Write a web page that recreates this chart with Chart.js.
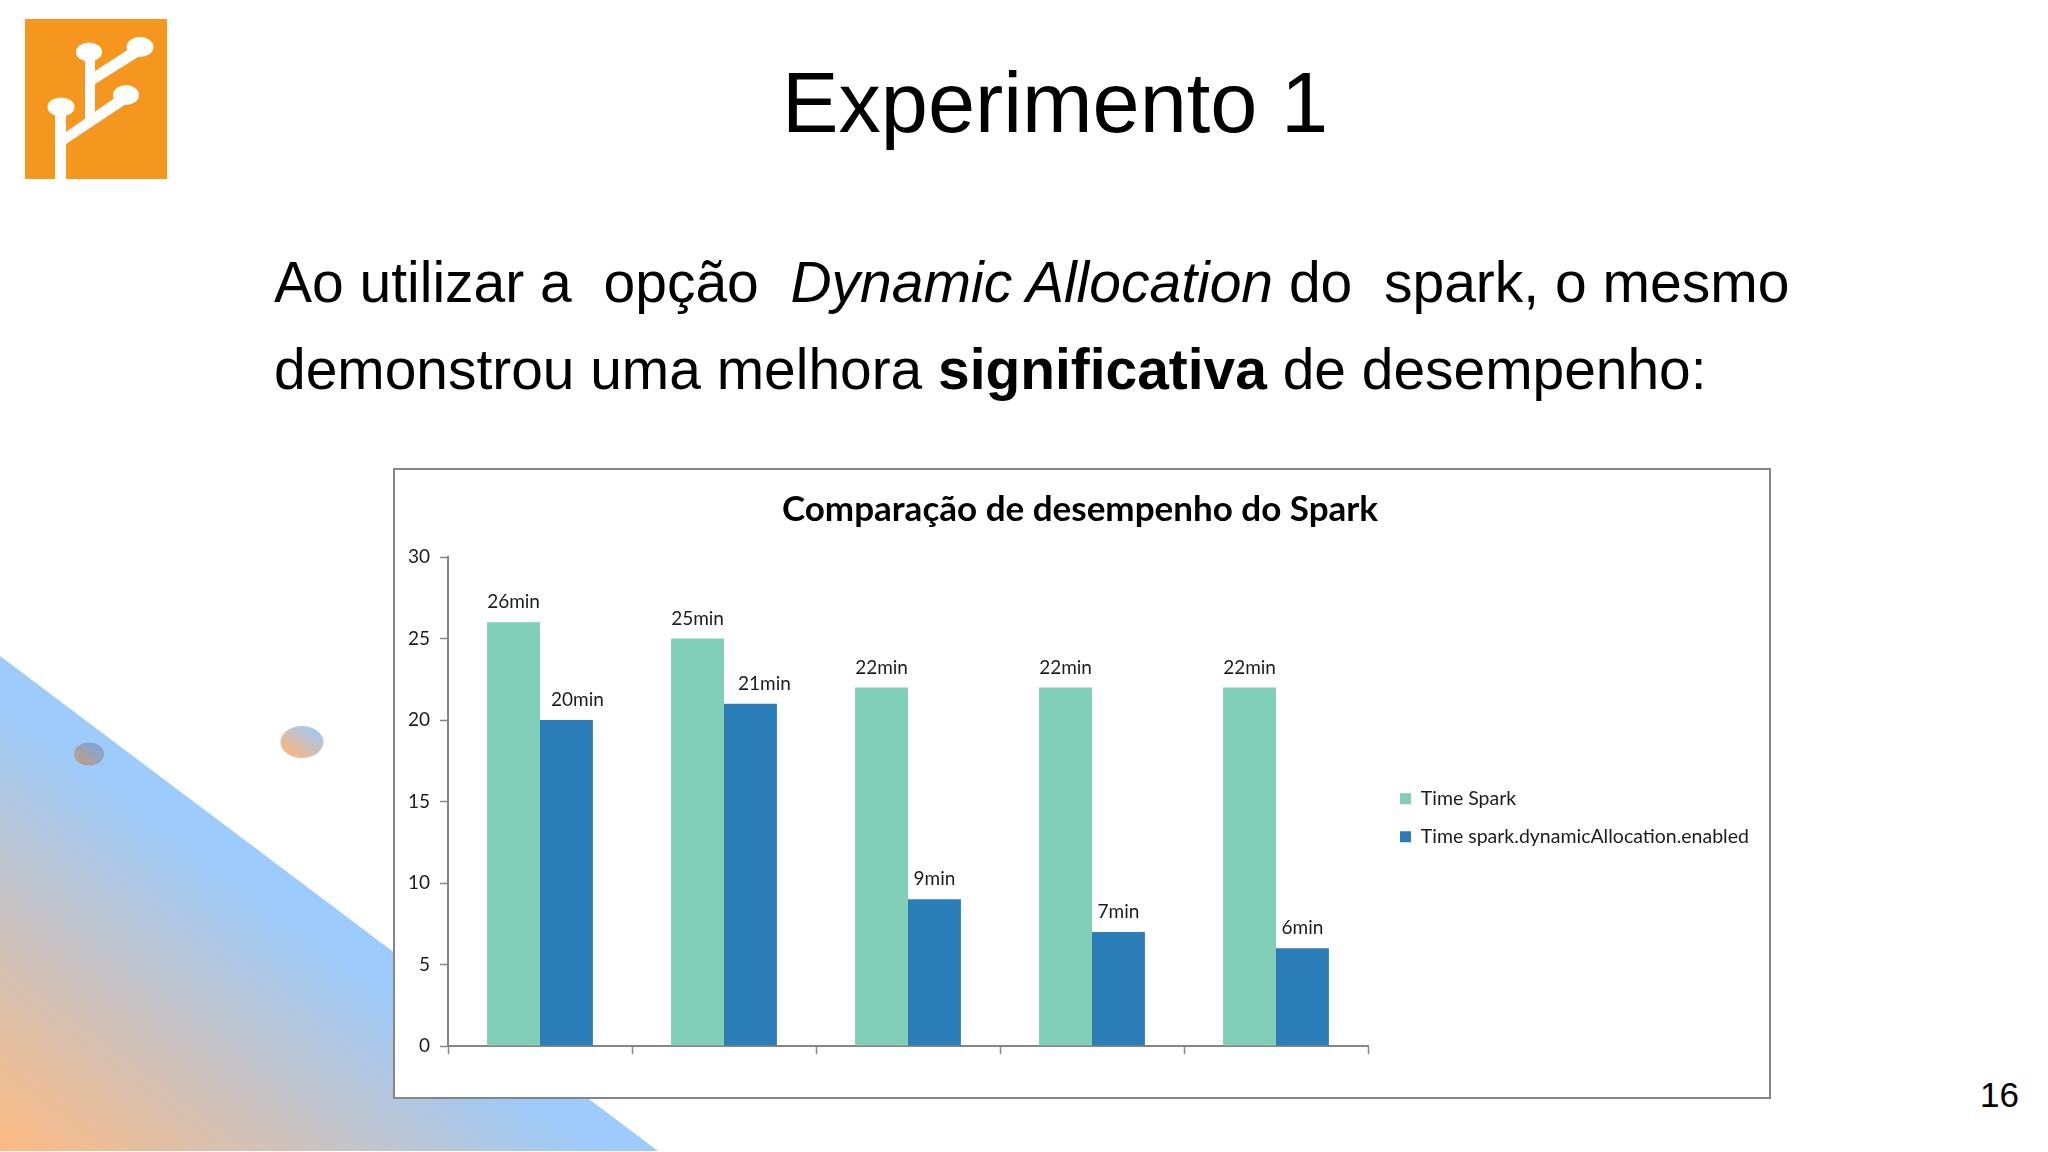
<!DOCTYPE html>
<html lang="pt">
<head>
<meta charset="utf-8">
<title>Experimento 1</title>
<script src="https://cdn.jsdelivr.net/npm/chart.js@4/dist/chart.umd.min.js"></script>
<style>
  html, body { margin: 0; padding: 0; width: 2048px; height: 1152px; background: #fff; overflow: hidden; }
  body { position: relative; font-family: "Liberation Sans", Arial, sans-serif; color: #000; }
  .abs { position: absolute; }
  .slide-title { left: 782px; top: 61px; font-size: 84.7px; line-height: 1; white-space: pre; }
  .body-line { left: 274px; font-size: 56.9px; line-height: 1; white-space: pre; }
  .page-number { left: 1980px; top: 1077px; font-size: 35px; line-height: 1; }
  #chart-box { left: 393px; top: 468px; width: 1374px; height: 627px; background: #fff; border: 2px solid #868686; box-sizing: content-box; }
  #chart { display: block; }
</style>
</head>
<body>

<!-- background shapes -->
<svg class="abs" style="left:0;top:0" width="2048" height="1152" viewBox="0 0 2048 1152">
  <defs>
    <linearGradient id="bgGrad" gradientUnits="userSpaceOnUse" x1="0" y1="1152" x2="238" y2="834">
      <stop offset="0" stop-color="#fdba80"/>
      <stop offset="0.92" stop-color="#9ccbfc"/>
    </linearGradient>
    <linearGradient id="dotBig" x1="0" y1="1" x2="1" y2="0">
      <stop offset="0.15" stop-color="#f5b683"/>
      <stop offset="0.85" stop-color="#a3c8ee"/>
    </linearGradient>
    <linearGradient id="dotSmall" x1="0" y1="1" x2="1" y2="0">
      <stop offset="0.15" stop-color="#bb9f8b"/>
      <stop offset="0.85" stop-color="#7da6d6"/>
    </linearGradient>
  </defs>
  <polygon points="0,656 658,1151 0,1151" fill="url(#bgGrad)"/>
  <ellipse cx="302" cy="742" rx="21.5" ry="16" fill="url(#dotBig)"/>
  <ellipse cx="89" cy="754" rx="15" ry="11.5" fill="url(#dotSmall)"/>

  <!-- logo -->
  <rect x="25" y="19" width="142" height="160" fill="#f5971f"/>
  <g fill="#fff">
    <rect x="55" y="107" width="11" height="72"/>
    <polygon points="85,52 95,52 95,118 85,125"/>
    <polygon points="66,132 126,90 132,100 66,144"/>
    <polygon points="95,71 140,42 146,52 95,84"/>
    <ellipse cx="61" cy="107" rx="13.5" ry="9.5"/>
    <ellipse cx="89" cy="52" rx="13" ry="9.5"/>
    <ellipse cx="140" cy="47" rx="13.5" ry="10"/>
    <ellipse cx="126" cy="95" rx="13" ry="10"/>
  </g>
</svg>

<div class="abs slide-title">Experimento 1</div>
<div class="abs body-line" style="top:254px;font-size:57px">Ao utilizar a  opção  <i>Dynamic Allocation</i> do  spark, o mesmo</div>
<div class="abs body-line" style="top:341px">demonstrou uma melhora <b>significativa</b> de desempenho:</div>
<div class="abs page-number">16</div>

<div class="abs" id="chart-box"><canvas id="chart" width="1374" height="627"></canvas></div>

<script>
// ── Data ──────────────────────────────────────────────────────────────────────
const categories = ["", "", "", "", ""];
const timeSpark = [26, 25, 22, 22, 22];
const timeDynamic = [20, 21, 9, 7, 6];
const seriesNames = ["Time Spark", "Time spark.dynamicAllocation.enabled"];
const yTicks = [0, 5, 10, 15, 20, 25, 30];
const chartTitle = "Comparação de desempenho do Spark";
const labelSuffix = "min";

// ── Styles ────────────────────────────────────────────────────────────────────
const FONT = "Lato, Carlito, sans-serif";
const AXIS_COLOR = "#868686";
const TEXT_COLOR = "#1c1c1c";
const SERIES_COLORS = ["#80cdb8", "#2b7db7"];

// in the original the first two blue labels sit a little to the right of their bars
const LABEL_NUDGE = [[0, 0, 0, 0, 0], [11, 14, 0, 0, 0]];

// ── Inline plugins ────────────────────────────────────────────────────────────
const barLabels = {
  id: "barLabels",
  afterDatasetsDraw(chart) {
    const { ctx } = chart;
    ctx.save();
    ctx.font = `19px ${FONT}`;
    ctx.fillStyle = TEXT_COLOR;
    ctx.textAlign = "center";
    ctx.textBaseline = "middle";
    chart.data.datasets.forEach((ds, i) => {
      chart.getDatasetMeta(i).data.forEach((bar, j) => {
        ctx.fillText(ds.data[j] + labelSuffix, bar.x + LABEL_NUDGE[i][j], bar.y - 20);
      });
    });
    ctx.restore();
  },
};

// title spans the whole box, legend sits right of the plot: both placed after layout
const placeBoxes = {
  id: "placeBoxes",
  afterLayout(chart) {
    const title = chart.titleBlock;
    title.left = 0;
    title.right = 1370;

    const lg = chart.legend;
    lg.left = 986.5;
    lg.right = 1374;
    lg.top = 300.5;
    lg.bottom = 400;
  },
};

// ── Chart ─────────────────────────────────────────────────────────────────────
new Chart(document.getElementById("chart"), {
  type: "bar",
  data: {
    labels: categories,
    datasets: [
      { label: seriesNames[0], data: timeSpark, backgroundColor: SERIES_COLORS[0] },
      { label: seriesNames[1], data: timeDynamic, backgroundColor: SERIES_COLORS[1] },
    ],
  },
  options: {
    responsive: false,
    animation: false,
    devicePixelRatio: 1,
    layout: { autoPadding: false, padding: { left: 0, top: 0, right: 401, bottom: 43 } },
    datasets: { bar: { categoryPercentage: 0.575, barPercentage: 1 } },
    plugins: {
      tooltip: { enabled: false },
      title: {
        display: true,
        text: chartTitle,
        color: "#000",
        font: { family: FONT, size: 35, weight: "bold" },
        padding: { top: 19, bottom: 26 },
      },
      legend: {
        position: "chartArea",
        align: "start",
        labels: {
          font: { family: FONT, size: 19.5 },
          color: TEXT_COLOR,
          boxWidth: 11,
          boxHeight: 11,
          padding: 18.5,
        },
      },
    },
    scales: {
      x: {
        offset: true,
        border: { color: AXIS_COLOR, width: 2 },
        grid: { offset: true, drawOnChartArea: false, tickColor: AXIS_COLOR, tickLength: 8, tickWidth: 1.5 },
        ticks: { display: false },
      },
      y: {
        min: yTicks[0],
        max: yTicks[yTicks.length - 1],
        afterFit: (scale) => { scale.width = 53; },
        afterBuildTicks: (scale) => { scale.ticks = yTicks.map((value) => ({ value })); },
        border: { color: AXIS_COLOR, width: 2 },
        grid: { drawOnChartArea: false, tickColor: AXIS_COLOR, tickLength: 8, tickWidth: 1.5 },
        ticks: { color: TEXT_COLOR, padding: 10, font: { family: FONT, size: 19 } },
      },
    },
  },
  plugins: [barLabels, placeBoxes],
});
</script>
</body>
</html>
